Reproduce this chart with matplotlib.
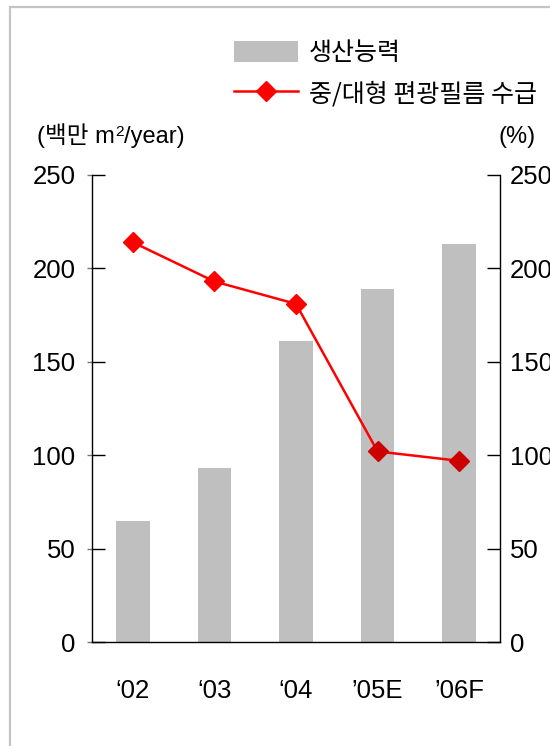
import matplotlib
matplotlib.use("Agg")
import matplotlib.pyplot as plt
from matplotlib.patches import Patch, Rectangle
from matplotlib.lines import Line2D

categories = ["\u201802", "\u201803", "\u201804", "\u201905E", "\u201906F"]
capacity = [65, 93, 161, 189, 213]
supply_pct = [214, 193, 181, 102, 97]
yticks = [0, 50, 100, 150, 200, 250]

bar_label = "생산능력"
line_label = "중/대형 편광필름 수급"
left_unit_parts = ["(백만 m", "2", "/year)"]
right_unit = "(%)"

FAM = ["Liberation Sans", "Noto Sans CJK KR", "DejaVu Sans"]
plt.rcParams["font.family"] = FAM

fig = plt.figure(figsize=(5.5, 7.46), dpi=100)
ax = fig.add_axes([92/550, 1-642/746, (500-92)/550, (642-175)/746])
ax2 = ax.twinx()

x = list(range(len(categories)))
ax.bar(x, capacity, width=0.41, color="#bfbfbf", zorder=1)
ax.set_xlim(-0.5, len(categories)-0.5)
ax.set_ylim(0, 250)
ax.set_yticks(yticks)
ax.set_yticklabels([str(v) for v in yticks])
ax.set_yticks(yticks, minor=True)
ax.yaxis.remove_overlapping_locs = False
ax.set_xticks(x)
ax.set_xticklabels(categories)

ax2.plot(x, supply_pct, color="#ff0000", lw=1.8, zorder=3)
mcolors = ["#ff0000", "#ff0000", "#ff0000", "#cc0000", "#cc0000"]
for xi, yi, c in zip(x, supply_pct, mcolors):
    ax2.plot([xi], [yi], marker="D", ms=10.5, color=c, mec=c, lw=0, zorder=4)
ax2.set_ylim(0, 250)
ax2.set_yticks(yticks)
ax2.set_yticklabels([str(v) for v in yticks])

for a in (ax, ax2):
    a.spines["top"].set_visible(False)
    for s in a.spines.values():
        s.set_linewidth(1.0)
        s.set_color("black")
ax.spines["right"].set_visible(False)
ax2.spines["left"].set_visible(False)
ax2.spines["bottom"].set_visible(False)

FS = 18.5
ax.tick_params(axis="y", which="major", direction="in", length=9.5, width=1.0,
               pad=12, labelsize=FS, colors="black")
ax.tick_params(axis="y", which="minor", direction="out", length=3.5, width=1.0,
               color="#777777")
ax2.tick_params(axis="y", direction="in", length=9.5, width=1.0, pad=7,
                labelsize=FS, colors="black")
ax.tick_params(axis="x", length=0, pad=27, labelsize=FS)

# frame
fig.patches.append(Rectangle((10/550, -0.1), 1.2, 1 - 7/746 + 0.1,
                             transform=fig.transFigure, fill=False,
                             edgecolor="#c4c4c4", lw=1.6))

# left unit label with superscript
UFS = 17
fig.canvas.draw()
r = fig.canvas.get_renderer()
t1 = fig.text(37/550, 1-143/746, left_unit_parts[0], fontsize=UFS,
              va="baseline", ha="left")
bb = t1.get_window_extent(renderer=r)
t2 = fig.text(bb.x1/550 + 0.5/550, 1-143/746 + 7/746, left_unit_parts[1],
              fontsize=UFS*0.65, va="baseline", ha="left")
bb2 = t2.get_window_extent(renderer=r)
t3 = fig.text(bb2.x1/550, 1-143/746, left_unit_parts[2], fontsize=UFS,
              va="baseline", ha="left")
fig.text(499/550, 1-143/746, right_unit, fontsize=UFS, va="baseline", ha="left")

handles = [Patch(facecolor="#bfbfbf", edgecolor="none"),
           Line2D([], [], color="#ff0000", lw=1.8, marker="D", ms=10.5)]
leg = fig.legend(handles, [bar_label, line_label], loc="upper left",
                 bbox_to_anchor=(234/550, 1-40/746), frameon=False,
                 fontsize=18, handlelength=2.55, handleheight=0.95,
                 handletextpad=0.45, labelspacing=0.6, borderaxespad=0,
                 borderpad=0)
for t in leg.get_texts():
    t.set_family(["Noto Sans CJK KR", "DejaVu Sans"])

fig.savefig("out.png", dpi=100)
